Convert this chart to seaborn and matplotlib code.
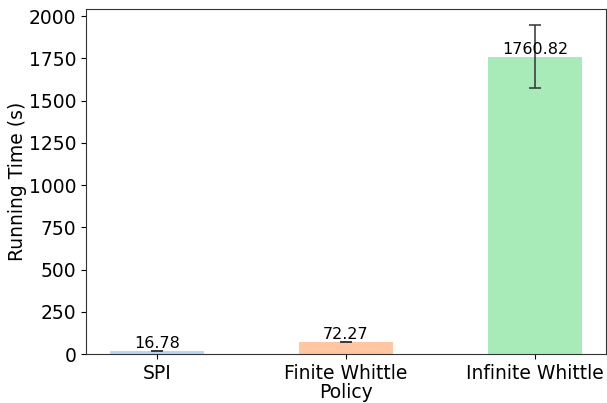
import matplotlib
matplotlib.use("Agg")
import matplotlib.pyplot as plt
import seaborn as sns
import pandas as pd

policies = ["SPI", "Finite Whittle", "Infinite Whittle"]
mean_time = [16.78, 72.27, 1760.82]
std_time = [1.2, 1.5, 186.0]

df = pd.DataFrame({"Policy": policies, "Running Time (s)": mean_time})

fig = plt.figure(figsize=(6.07, 4.03), dpi=100)
ax = fig.add_axes([86 / 607, 49 / 403, 520 / 607, 345 / 403])

colors = sns.color_palette("pastel", 3)
sns.barplot(data=df, x="Policy", y="Running Time (s)", hue="Policy",
            palette=colors, width=0.5, alpha=0.75, saturation=1,
            errorbar=None, legend=False, ax=ax)
ax.errorbar(range(len(policies)), mean_time, yerr=std_time, fmt="none",
            ecolor="#333333", elinewidth=1.1, capsize=4, capthick=1.1)

for i, v in enumerate(mean_time):
    ax.text(i, v, f"{v:.2f}", ha="center", va="bottom", fontsize=11.5)

ax.set_xlim(-0.375, 2.375)
ax.set_ylim(0, 2042)
ax.set_xlabel("Policy", fontsize=13.5, labelpad=0)
ax.set_ylabel("Running Time (s)", fontsize=13.5, labelpad=1)
ax.tick_params(labelsize=13.5)
for s in ax.spines.values():
    s.set_color("#333333")

fig.savefig("out.png", dpi=100)
